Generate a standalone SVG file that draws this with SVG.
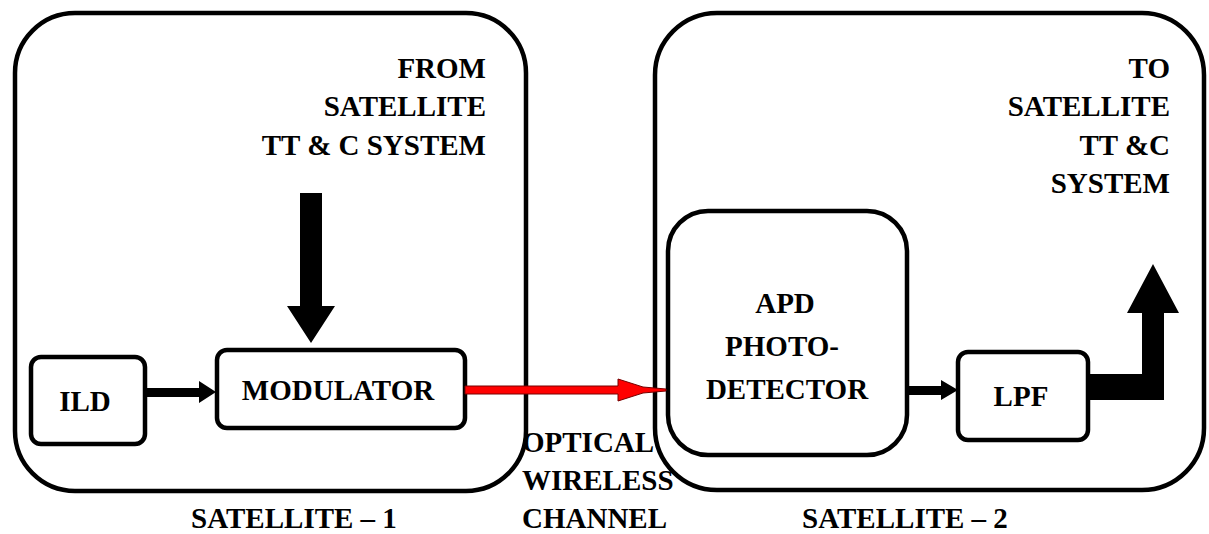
<svg xmlns="http://www.w3.org/2000/svg" width="1209" height="534" viewBox="0 0 1209 534">
  <rect width="1209" height="534" fill="#fff"/>

  <!-- Satellite 1 enclosure -->
  <g id="satellite-1">
    <rect x="15" y="13" width="511" height="478" rx="60" ry="60" fill="none" stroke="#000" stroke-width="4.5"/>
    <text x="294" y="528" text-anchor="middle" font-family="Liberation Serif" font-weight="bold" font-size="29">SATELLITE – 1</text>
    <text x="486" y="78" text-anchor="end" font-family="Liberation Serif" font-weight="bold" font-size="29">FROM</text>
    <text x="486" y="116" text-anchor="end" font-family="Liberation Serif" font-weight="bold" font-size="29">SATELLITE</text>
    <text x="486" y="155" text-anchor="end" font-family="Liberation Serif" font-weight="bold" font-size="29">TT &amp; C SYSTEM</text>
  </g>

  <!-- Satellite 2 enclosure -->
  <g id="satellite-2">
    <rect x="655" y="13" width="549" height="477" rx="62" ry="62" fill="none" stroke="#000" stroke-width="4.5"/>
    <text x="905" y="528" text-anchor="middle" font-family="Liberation Serif" font-weight="bold" font-size="29">SATELLITE – 2</text>
    <text x="1170" y="78" text-anchor="end" font-family="Liberation Serif" font-weight="bold" font-size="29">TO</text>
    <text x="1170" y="116" text-anchor="end" font-family="Liberation Serif" font-weight="bold" font-size="29">SATELLITE</text>
    <text x="1170" y="155" text-anchor="end" font-family="Liberation Serif" font-weight="bold" font-size="29">TT &amp;C</text>
    <text x="1170" y="193" text-anchor="end" font-family="Liberation Serif" font-weight="bold" font-size="29">SYSTEM</text>
  </g>

  <!-- Blocks -->
  <g id="ild">
    <rect x="31" y="357" width="114" height="87" rx="10" ry="10" fill="#fff" stroke="#000" stroke-width="4.5"/>
    <text x="85" y="411" text-anchor="middle" font-family="Liberation Serif" font-weight="bold" font-size="29">ILD</text>
  </g>
  <g id="modulator">
    <rect x="217" y="350" width="248" height="78" rx="10" ry="10" fill="#fff" stroke="#000" stroke-width="4.5"/>
    <text x="338" y="400" text-anchor="middle" font-family="Liberation Serif" font-weight="bold" font-size="29">MODULATOR</text>
  </g>
  <g id="apd-photodetector">
    <rect x="668" y="211" width="239" height="244" rx="40" ry="40" fill="#fff" stroke="#000" stroke-width="4.5"/>
    <text x="785" y="313" text-anchor="middle" font-family="Liberation Serif" font-weight="bold" font-size="29">APD</text>
    <text x="782" y="356" text-anchor="middle" font-family="Liberation Serif" font-weight="bold" font-size="29">PHOTO-</text>
    <text x="787" y="399" text-anchor="middle" font-family="Liberation Serif" font-weight="bold" font-size="29">DETECTOR</text>
  </g>
  <g id="lpf">
    <rect x="958" y="352" width="130" height="88" rx="10" ry="10" fill="#fff" stroke="#000" stroke-width="4.5"/>
    <text x="1021" y="406" text-anchor="middle" font-family="Liberation Serif" font-weight="bold" font-size="29">LPF</text>
  </g>

  <!-- Channel label -->
  <g id="optical-wireless-channel">
    <text x="522" y="452" font-family="Liberation Serif" font-weight="bold" font-size="29">OPTICAL</text>
    <text x="522" y="490" font-family="Liberation Serif" font-weight="bold" font-size="29">WIRELESS</text>
    <text x="522" y="528" font-family="Liberation Serif" font-weight="bold" font-size="29">CHANNEL</text>
  </g>

  <!-- Connectors -->
  <g id="connectors">
    <!-- TT&C input into modulator -->
    <polygon points="300,193 322,193 322,306 335,306 311,343 287,306 300,306" fill="#000"/>
    <!-- ILD to modulator -->
    <polygon points="145,388 199,388 199,381 216,392 199,403 199,397 145,397" fill="#000"/>
    <!-- optical beam across the channel -->
    <polygon points="465,386 618,386 618,379 643,387 666,389 666,391 643,393 618,401 618,394 465,394" fill="#f00" stroke="#700" stroke-width="1"/>
    <!-- photodetector to LPF -->
    <polygon points="907,386 941,386 941,380 958,390 941,400 941,395 907,395" fill="#000"/>
    <!-- LPF output to TT&C system -->
    <polygon points="1088,374 1142,374 1142,313 1127,313 1153,264 1179,313 1164,313 1164,400 1088,400" fill="#000"/>
  </g>
</svg>
